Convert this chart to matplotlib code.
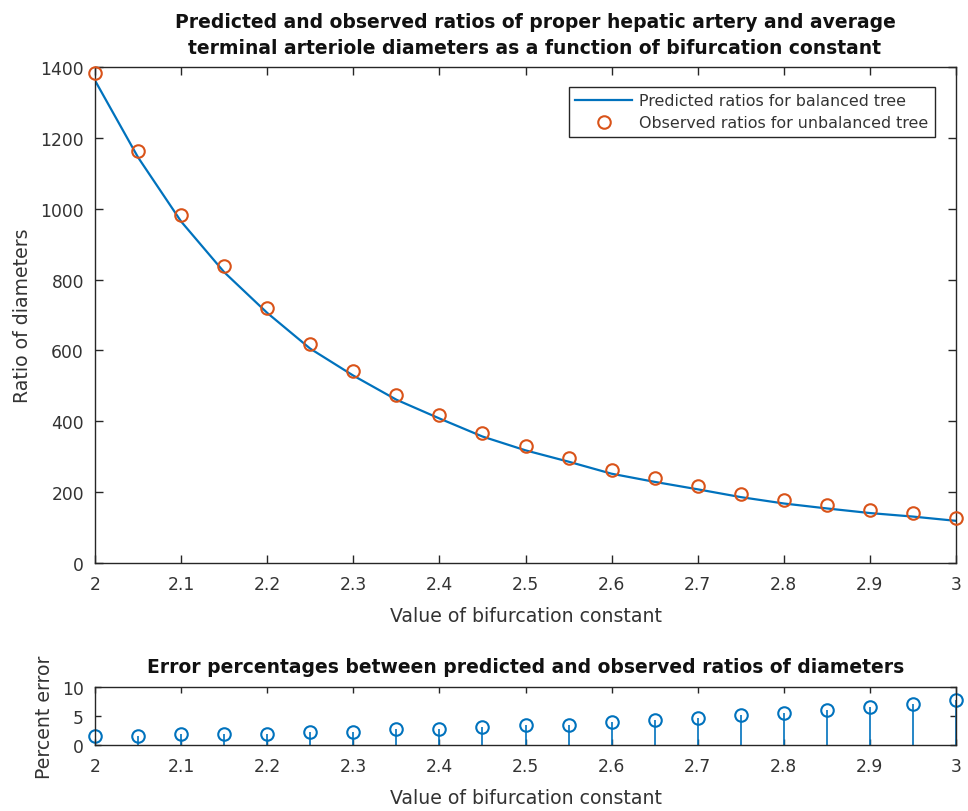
import matplotlib
matplotlib.use("Agg")
import matplotlib.pyplot as plt
from matplotlib.ticker import FuncFormatter, MultipleLocator

plt.rcParams['font.family'] = ['DejaVu Sans']

bifurcation = [2.00, 2.05, 2.10, 2.15, 2.20, 2.25, 2.30, 2.35, 2.40, 2.45, 2.50,
               2.55, 2.60, 2.65, 2.70, 2.75, 2.80, 2.85, 2.90, 2.95, 3.00]
predicted = [1362, 1145, 964, 821, 706, 605, 529, 461, 408, 357, 318,
             286, 252, 229, 208, 186, 168, 154, 141, 131, 119]
observed = [1384, 1162, 982, 837, 719, 619, 541, 474, 419, 368, 329,
            296, 262, 239, 218, 195, 177, 163, 150, 140, 128]
error_pct = [1.5, 1.5, 1.9, 1.9, 1.9, 2.3, 2.3, 2.7, 2.7, 3.1, 3.5,
             3.5, 3.9, 4.3, 4.7, 5.1, 5.5, 6.1, 6.5, 7.1, 7.7]

BLUE = '#0072BD'
ORANGE = '#D95319'
AXC = '#262626'
TXT = '#333333'

W, H = 968, 812
fig = plt.figure(figsize=(W/100, H/100), dpi=100)
ax1 = fig.add_axes([95/W, 1-564/H, 861/W, 496/H])
ax2 = fig.add_axes([95/W, 1-746/H, 861/W, 58/H])

fmt = FuncFormatter(lambda v, p: '%g' % round(v, 6))

def style(ax, ticklen):
    for s in ax.spines.values():
        s.set_color(AXC)
        s.set_linewidth(1.0)
    ax.tick_params(direction='in', top=True, right=True, length=ticklen,
                   width=1.0, color=AXC, labelcolor=TXT, labelsize=12.3)
    ax.tick_params(axis='x', pad=9)
    ax.tick_params(axis='y', pad=8)
    ax.xaxis.set_major_locator(MultipleLocator(0.1))
    ax.xaxis.set_major_formatter(fmt)

ax1.plot(bifurcation, predicted, color=BLUE, lw=1.6, label='Predicted ratios for balanced tree')
ax1.plot(bifurcation, observed, 'o', mfc='none', mec=ORANGE, mew=1.5, ms=9,
         label='Observed ratios for unbalanced tree', clip_on=False, zorder=5)
ax1.set_xlim(2, 3)
ax1.set_ylim(0, 1400)
ax1.yaxis.set_major_locator(MultipleLocator(200))
style(ax1, 6)
ax1.set_xlabel('Value of bifurcation constant', fontsize=13.6, color=TXT, labelpad=9)
ax1.set_ylabel('Ratio of diameters', fontsize=13.6, color=TXT, labelpad=6)
ttl = ax1.set_title('Predicted and observed ratios of proper hepatic artery and average\n'
                    'terminal arteriole diameters as a function of bifurcation constant',
                    fontsize=13.5, fontweight='bold', color='#111111', pad=10, linespacing=1.45)
ttl.set_x(0.511)
leg = ax1.legend(loc='upper right', bbox_to_anchor=(1-21/861, 1-20/496), fontsize=11.4,
                 frameon=True, fancybox=False, edgecolor=AXC, framealpha=1,
                 handlelength=3.6, handletextpad=0.45, borderpad=0.4, labelspacing=0.45,
                 borderaxespad=0)
leg.get_frame().set_linewidth(1.0)
for t in leg.get_texts():
    t.set_color(TXT)

ml, sl, bl = ax2.stem(bifurcation, error_pct, basefmt=' ')
plt.setp(ml, marker='o', mfc='none', mec=BLUE, mew=1.5, ms=9, clip_on=False)
plt.setp(sl, color=BLUE, lw=1.2)
ax2.set_xlim(2, 3)
ax2.set_ylim(0, 10)
ax2.set_yticks([0, 5, 10])
style(ax2, 4)
ax2.set_xlabel('Value of bifurcation constant', fontsize=13.6, color=TXT, labelpad=9)
ax2.set_ylabel('Percent error', fontsize=13.6, color=TXT, labelpad=6)
ax2.set_title('Error percentages between predicted and observed ratios of diameters',
              fontsize=13.5, fontweight='bold', color='#111111', pad=11)

fig.savefig('out.png', dpi=100, facecolor='white')
